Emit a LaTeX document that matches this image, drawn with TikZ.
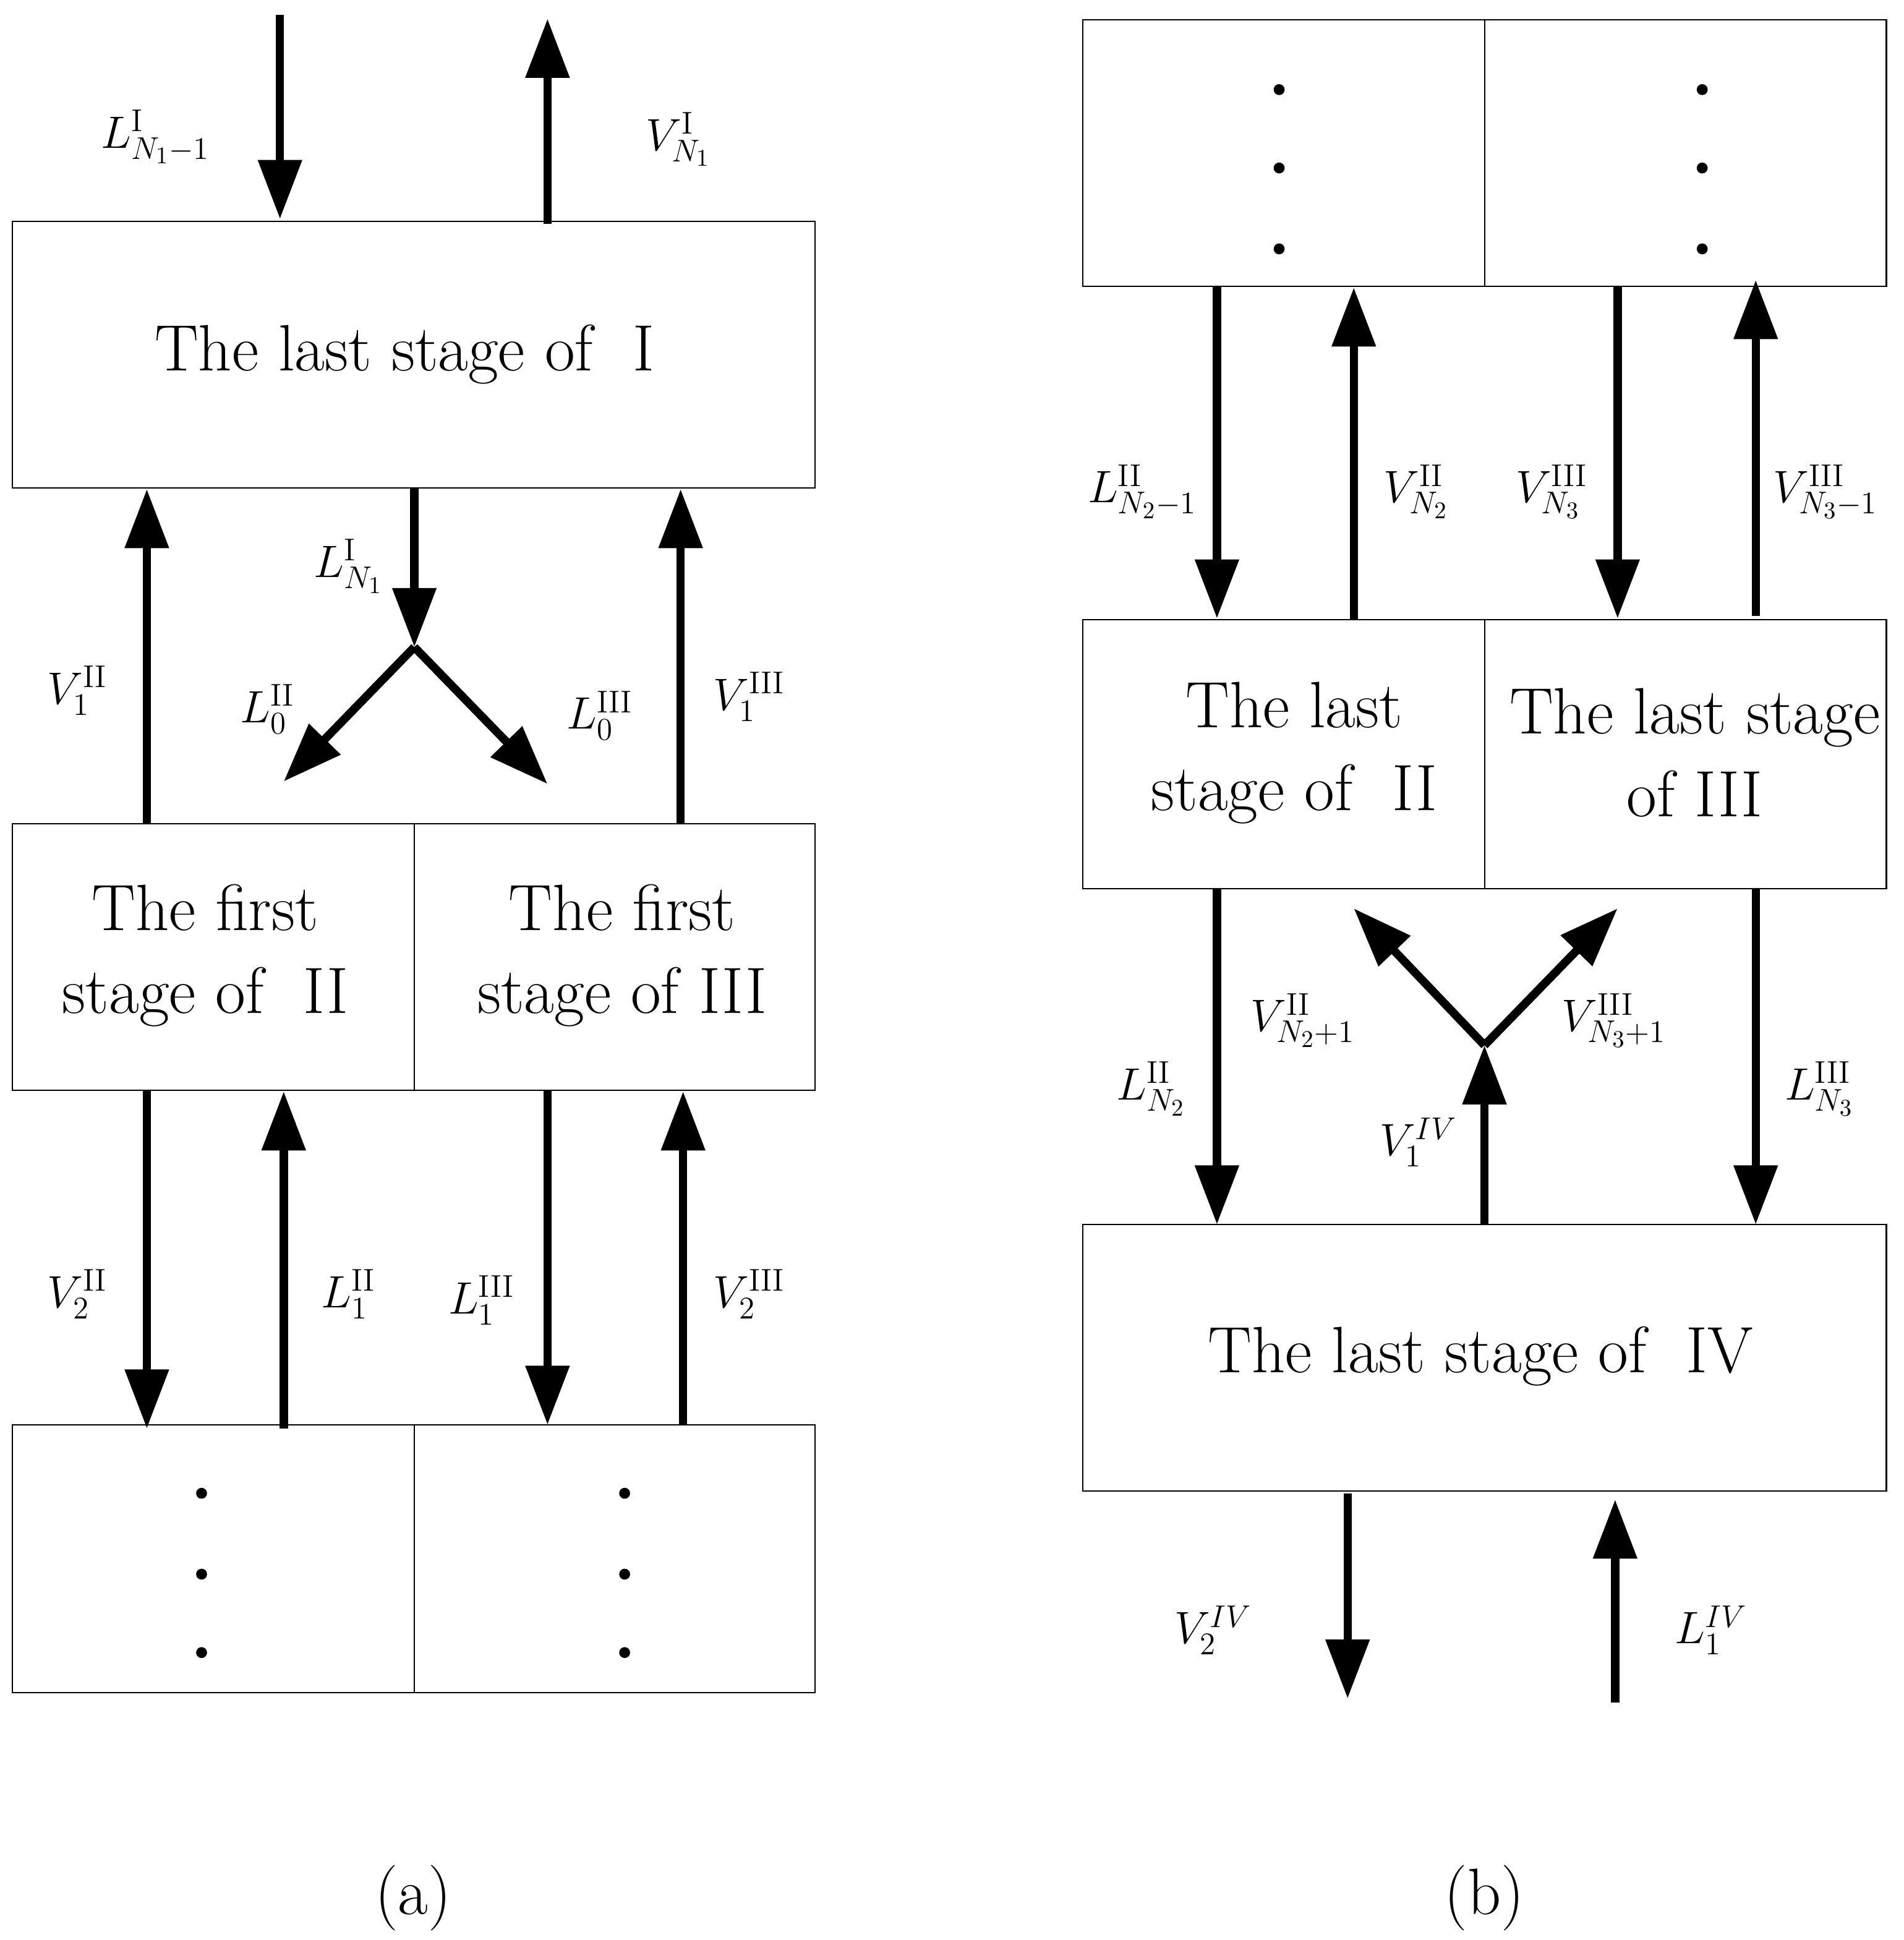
\documentclass[tikz,border=0pt]{standalone}
\usetikzlibrary{arrows.meta}
\begin{document}
\begin{tikzpicture}[x=0.02cm,y=-0.02cm,
  box/.style={draw,line width=0.6pt},
  arr/.style={line width=3.8pt,-{Triangle[length=0.95cm,width=0.68cm]}},
  lab/.style={font=\fontsize{22}{26}\selectfont},
  txt/.style={font=\fontsize{30}{38}\selectfont,align=center},
  dot/.style={circle,fill,inner sep=0pt,minimum size=5pt}]
\useasboundingbox (0,0) rectangle (1530,1559);
% ---- (a)
\draw[box] (10,178) rectangle (655,392);
\node[txt] at (325,285) {The last stage of \ I};
\draw[box] (10,662) rectangle (655,876); \draw[box] (333,662)--(333,876);
\node[txt] at (165,768) {The first\\stage of \ II};
\node[txt] at (500,768) {The first\\stage of III};
\draw[box] (10,1145) rectangle (655,1360); \draw[box] (333,1145)--(333,1360);
\foreach \y in {1200,1265,1328}{\node[dot] at (162,\y){}; \node[dot] at (502,\y){};}
\draw[arr] (225,12)--(225,176);
\draw[arr] (440,180)--(440,15);
\node[lab] at (125,110) {$L^{\mathrm{I}}_{N_1-1}$};
\node[lab] at (545,112) {$V^{\mathrm{I}}_{N_1}$};
\draw[arr] (118,662)--(118,393);
\node[lab] at (62,555) {$V^{\mathrm{II}}_{1}$};
\coordinate (j1) at (333,520);
\draw[arr] (333,392)--(j1);
\draw[arr] (j1)--(228,628);
\draw[arr] (j1)--(440,630);
\node[lab] at (280,455) {$L^{\mathrm{I}}_{N_1}$};
\node[lab] at (215,570) {$L^{\mathrm{II}}_{0}$};
\node[lab] at (482,575) {$L^{\mathrm{III}}_{0}$};
\draw[arr] (547,662)--(547,393);
\node[lab] at (602,560) {$V^{\mathrm{III}}_{1}$};
\draw[arr] (118,876)--(118,1148);
\draw[arr] (228,1148)--(228,877);
\draw[arr] (440,876)--(440,1145);
\draw[arr] (549,1145)--(549,877);
\node[lab] at (62,1040) {$V^{\mathrm{II}}_{2}$};
\node[lab] at (280,1040) {$L^{\mathrm{II}}_{1}$};
\node[lab] at (387,1045) {$L^{\mathrm{III}}_{1}$};
\node[lab] at (602,1040) {$V^{\mathrm{III}}_{2}$};
\node[txt] at (332,1525) {(a)};
% ---- (b)
\draw[box] (870,16) rectangle (1516,230); \draw[box] (1193,16)--(1193,230);
\foreach \y in {72,135,200}{\node[dot] at (1028,\y){}; \node[dot] at (1368,\y){};}
\draw[box] (870,498) rectangle (1516,714); \draw[box] (1193,498)--(1193,714);
\node[txt] at (1040,605) {The last\\stage of \ II};
\node[txt] at (1362,605) {The last stage\\of III};
\draw[box] (870,984) rectangle (1516,1198);
\node[txt] at (1190,1090) {The last stage of \ IV};
\draw[arr] (978,230)--(978,497);
\draw[arr] (1088,498)--(1088,231);
\draw[arr] (1300,230)--(1300,497);
\draw[arr] (1411,495)--(1411,225);
\node[lab] at (918,395) {$L^{\mathrm{II}}_{N_2-1}$};
\node[lab] at (1138,395) {$V^{\mathrm{II}}_{N_2}$};
\node[lab] at (1247,395) {$V^{\mathrm{III}}_{N_3}$};
\node[lab] at (1467,395) {$V^{\mathrm{III}}_{N_3-1}$};
\draw[arr] (978,714)--(978,984);
\draw[arr] (1411,714)--(1411,984);
\coordinate (j2) at (1193,840);
\draw[arr] (1193,984)--(j2);
\draw[arr] (j2)--(1088,730);
\draw[arr] (j2)--(1300,730);
\node[lab] at (925,875) {$L^{\mathrm{II}}_{N_2}$};
\node[lab] at (1462,875) {$L^{\mathrm{III}}_{N_3}$};
\node[lab] at (1140,918) {$V^{IV}_{1}$};
\node[lab] at (1047,820) {$V^{\mathrm{II}}_{N_2+1}$};
\node[lab] at (1297,820) {$V^{\mathrm{III}}_{N_3+1}$};
\draw[arr] (1083,1200)--(1083,1365);
\draw[arr] (1298,1368)--(1298,1205);
\node[lab] at (975,1310) {$V^{IV}_{2}$};
\node[lab] at (1375,1310) {$L^{IV}_{1}$};
\node[txt] at (1193,1525) {(b)};
\end{tikzpicture}
\end{document}
